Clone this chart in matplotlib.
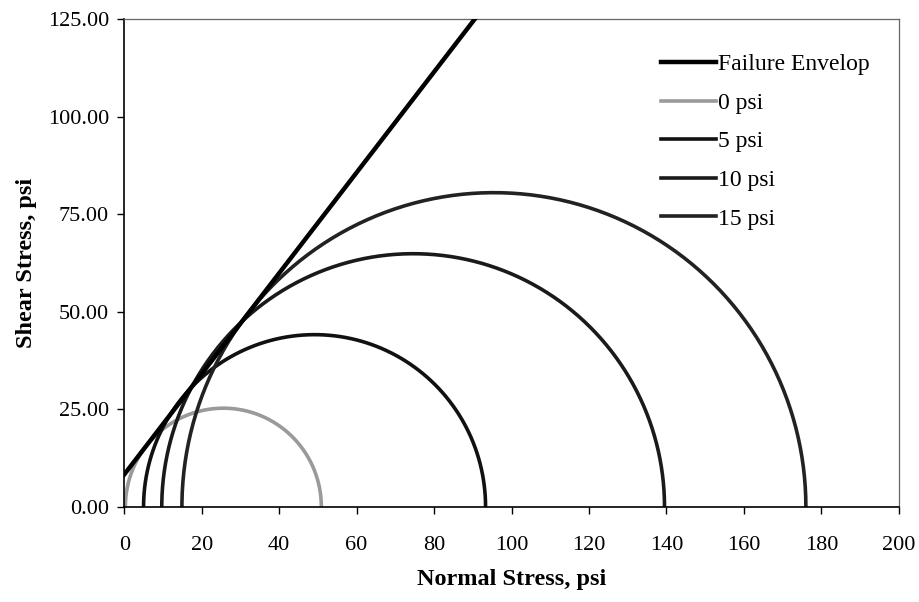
import numpy as np
import matplotlib
matplotlib.use("Agg")
import matplotlib.pyplot as plt
from matplotlib.ticker import FormatStrFormatter

# Mohr circles (confining pressure -> minor / major principal stress)
confining_labels = ["0 psi", "5 psi", "10 psi", "15 psi"]
sigma3 = [0.3, 5.0, 9.7, 14.9]
sigma1 = [50.9, 93.3, 139.5, 176.0]
circle_colors = ["#9a9a9a", "#111111", "#1a1a1a", "#222222"]

# Failure envelope: tau = c + tan(phi) * sigma
cohesion = 8.3
friction_slope = 1.29

x_ticks = [0, 20, 40, 60, 80, 100, 120, 140, 160, 180, 200]
y_ticks = [0, 25, 50, 75, 100, 125]

plt.rcParams["font.family"] = ["Liberation Serif", "DejaVu Serif"]

fig = plt.figure(figsize=(9.2, 6.02), dpi=100)
ax = fig.add_axes([0.135, 0.158, 0.842, 0.81])

ax.axline((0, cohesion), slope=friction_slope, color="black", lw=3.2,
          label="Failure Envelop", zorder=3)

theta = np.linspace(0, np.pi, 200)
for lab, s3, s1, col in zip(confining_labels, sigma3, sigma1, circle_colors):
    center = (s1 + s3) / 2
    radius = (s1 - s3) / 2
    ax.plot(center + radius * np.cos(theta), radius * np.sin(theta),
            color=col, lw=2.6, label=lab, zorder=2)

ax.set_xlim(0, 200)
ax.set_ylim(0, 125)
ax.set_xticks(x_ticks)
ax.set_yticks(y_ticks)
ax.yaxis.set_major_formatter(FormatStrFormatter("%.2f"))
ax.tick_params(direction="out", length=5, width=1, labelsize=16)
ax.tick_params(axis="x", pad=16)
ax.tick_params(axis="y", pad=6)

for side in ["left", "bottom"]:
    ax.spines[side].set_color("black")
    ax.spines[side].set_linewidth(1.2)
for side in ["top", "right"]:
    ax.spines[side].set_color("#666666")
    ax.spines[side].set_linewidth(0.9)

ax.set_xlabel("Normal Stress, psi", fontsize=17.5, fontweight="bold", labelpad=10)
ax.set_ylabel("Shear Stress, psi", fontsize=17.5, fontweight="bold", labelpad=8)

ax.legend(loc="upper left", bbox_to_anchor=(0.675, 0.958), frameon=False,
          fontsize=17, handlelength=2.3, handletextpad=0.1, labelspacing=0.72,
          borderaxespad=0.2)

fig.savefig("out.png", dpi=100)
